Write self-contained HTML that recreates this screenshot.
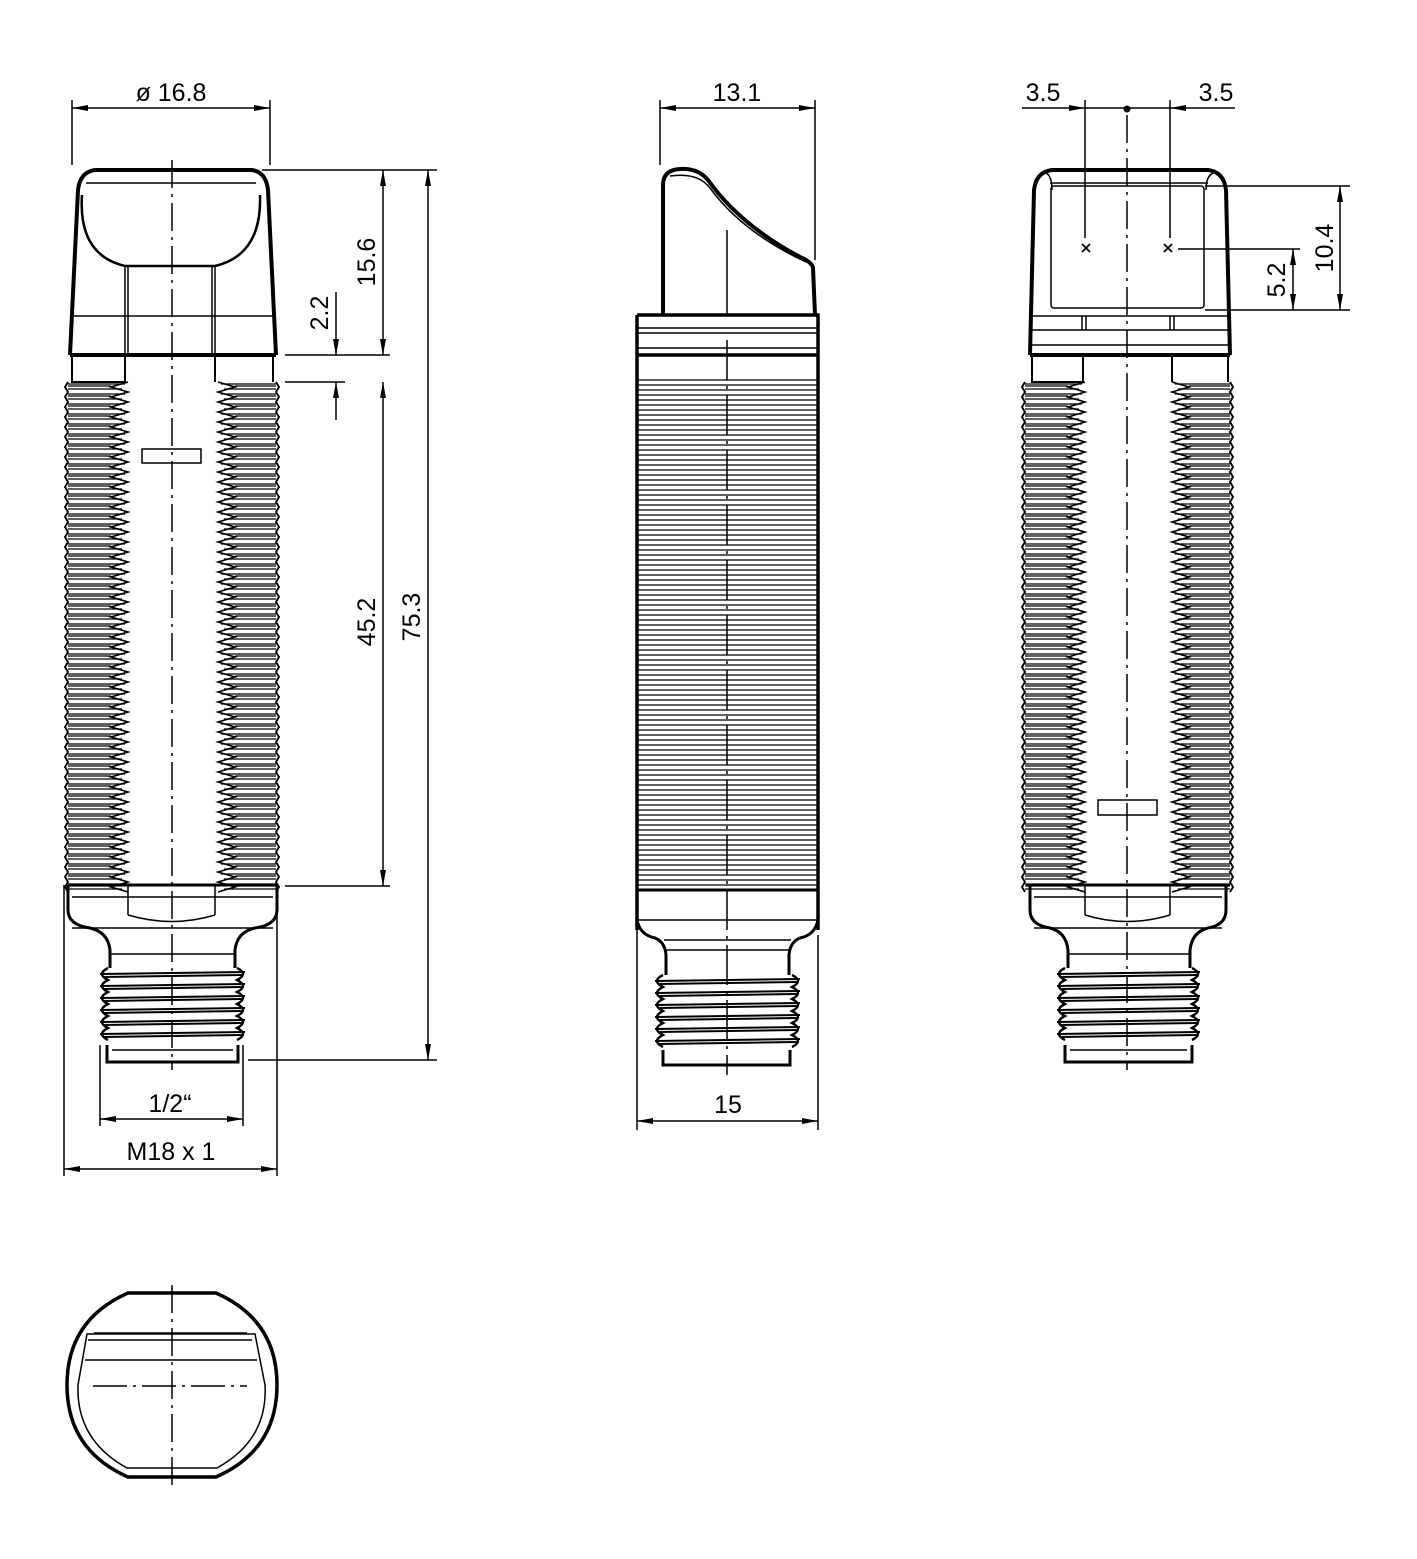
<!DOCTYPE html>
<html><head><meta charset="utf-8"><style>
html,body{margin:0;padding:0;background:#fff}
svg{display:block}
text{font-family:"Liberation Sans",sans-serif;font-size:25px;fill:#000}
</style></head><body>
<svg id="s" width="1417" height="1559" viewBox="0 0 1417 1559" xmlns="http://www.w3.org/2000/svg" fill="none" stroke="#000" stroke-width="1.5">
<defs>
<marker id="a" viewBox="0 0 16 6" refX="16" refY="3" markerWidth="16" markerHeight="6" markerUnits="userSpaceOnUse" orient="auto-start-reverse"><path d="M0,0 L16,3 L0,6 Z" fill="#000" stroke="none"/></marker>
</defs>
<g id="g"></g>

<!-- ===== LEFT VIEW ===== -->
<g>
<path d="M70,355 L78,190 Q80,172 95,170 L252,170 Q266,172 268,190 L276,355" stroke-width="4"/>
<path d="M86,183 L256,183" />
<path d="M82,195 Q78,255 125,266 L215,266 Q262,255 260,195" stroke-width="2.5"/>
<path d="M125,266 L125,355 M128,266 L128,355 M215,266 L215,355 M212,266 L212,355"/>
<path d="M72,316 L274,316"/>
<path d="M70,355 L276,355" stroke-width="4"/>
<path d="M72,355 L72,382 L125,382 L125,355 M215,355 L215,382 M273,355 L273,382" stroke-width="2"/>
<rect x="142" y="449" width="59" height="14"/>
<path d="M68,885 L277,885" stroke-width="3"/>
<path d="M68,885 L68,910 Q68,925 90,928 Q108,932 110,950 L110,968 M277,885 L277,910 Q277,925 255,928 Q237,932 235,950 L235,968" stroke-width="3"/>
<path d="M72,897 L273,897 M72,928 L273,928 M110,954 L235,954 M128,885 L128,915 M215,885 L215,915 M128,915 Q172,928 215,915"/>
<path d="M107,1045 L107,1062 L238,1062 L238,1045" stroke-width="3"/>
<path d="M112,1050 L233,1050"/>
<path d="M172,160 L172,1070" stroke-dasharray="28,6,3,6" stroke-width="1.5"/>
<path d="M72,100 L72,165 M270,100 L270,165"/>
<path d="M72,108 L270,108" marker-start="url(#a)" marker-end="url(#a)"/>
<text x="171" y="101" text-anchor="middle" stroke="none">ø 16.8</text>
<path d="M262,170 L437,170 M285,355 L390,355 M285,382 L345,382 M285,886 L390,886 M248,1060 L437,1060"/>
<path d="M383,170 L383,355" marker-start="url(#a)" marker-end="url(#a)"/>
<path d="M383,382 L383,886" marker-start="url(#a)" marker-end="url(#a)"/>
<path d="M428,170 L428,1060" marker-start="url(#a)" marker-end="url(#a)"/>
<path d="M336,292 L336,355" marker-end="url(#a)"/>
<path d="M336,420 L336,382" marker-end="url(#a)"/>
<text transform="translate(375,262) rotate(-90)" text-anchor="middle" stroke="none">15.6</text>
<text transform="translate(328,313) rotate(-90)" text-anchor="middle" stroke="none">2.2</text>
<text transform="translate(375,622) rotate(-90)" text-anchor="middle" stroke="none">45.2</text>
<text transform="translate(420,617) rotate(-90)" text-anchor="middle" stroke="none">75.3</text>
<path d="M100,1045 L100,1126 M243,1045 L243,1126"/>
<path d="M100,1119 L243,1119" marker-start="url(#a)" marker-end="url(#a)"/>
<text x="170" y="1112" text-anchor="middle" stroke="none">1/2“</text>
<path d="M64,885 L64,1176 M277,890 L277,1176"/>
<path d="M64,1169 L277,1169" marker-start="url(#a)" marker-end="url(#a)"/>
<text x="171" y="1160" text-anchor="middle" stroke="none">M18 x 1</text>
</g>

<!-- ===== MIDDLE VIEW ===== -->
<g>
<path d="M663,315 L663,185 Q663,170 680,169 Q698,168 708,180 Q740,225 800,257 Q812,262 813,268 L815,315" stroke-width="4"/>
<path d="M670,176 Q698,172 710,188 Q742,232 806,262"/>
<path d="M727,230 L727,315"/>
<path d="M637,315 L818,315 L818,930 M637,315 L637,930" stroke-width="3.5"/>
<path d="M637,328 L818,328 M637,333 L818,333 M637,348 L818,348"/>
<path d="M637,355 L818,355" stroke-width="3.5"/>
<path d="M637,890 L818,890" stroke-width="3"/>
<path d="M637,920 L818,920"/>
<path d="M637,920 Q640,935 655,938 Q665,942 666,955 L666,975 M818,920 Q815,935 800,938 Q790,942 789,955 L789,975" stroke-width="3"/>
<path d="M664,940 L791,940 M666,950 L789,950"/>
<path d="M663,1050 L663,1065 L790,1065 L790,1050" stroke-width="3"/>
<path d="M727,340 L727,1075" stroke-dasharray="40,6,3,6"/>
<path d="M660,100 L660,165 M815,100 L815,260"/>
<path d="M660,108 L815,108" marker-start="url(#a)" marker-end="url(#a)"/>
<text x="737" y="101" text-anchor="middle" stroke="none">13.1</text>
<path d="M637,930 L637,1130 M818,935 L818,1130"/>
<path d="M637,1121 L818,1121" marker-start="url(#a)" marker-end="url(#a)"/>
<text x="728" y="1113" text-anchor="middle" stroke="none">15</text>
</g>

<!-- ===== RIGHT VIEW ===== -->
<g>
<path d="M1030,355 L1034,190 Q1036,172 1052,170 L1208,170 Q1224,172 1226,190 L1230,355" stroke-width="4"/>
<path d="M1050,183 L1208,183 M1042,172 Q1052,172 1052,190 M1218,172 Q1206,172 1206,190"/>
<rect x="1051" y="186" width="153" height="122" rx="3"/>
<path d="M1032,316 L1228,316 M1032,330 L1228,330 M1032,345 L1228,345 M1082,316 L1082,330 M1086,316 L1086,330 M1170,316 L1170,330 M1174,316 L1174,330"/>
<path d="M1030,355 L1230,355" stroke-width="4"/>
<path d="M1032,355 L1032,382 L1083,382 L1083,355 M1172,355 L1172,382 M1228,355 L1228,382" stroke-width="2"/>
<rect x="1098" y="800" width="59" height="15"/>
<path d="M1026,885 L1230,885" stroke-width="3"/>
<path d="M1030,885 L1030,910 Q1030,925 1050,928 Q1066,932 1068,950 L1068,968 M1226,885 L1226,910 Q1226,925 1208,928 Q1192,932 1190,950 L1190,968" stroke-width="3"/>
<path d="M1034,897 L1222,897 M1034,928 L1222,928 M1068,954 L1190,954 M1085,885 L1085,915 M1170,885 L1170,915 M1085,915 Q1127,928 1170,915"/>
<path d="M1065,1045 L1065,1062 L1192,1062 L1192,1045" stroke-width="3"/>
<path d="M1070,1050 L1187,1050"/>
<path d="M1127,115 L1127,1070" stroke-dasharray="28,6,3,6"/>
<circle cx="1127" cy="109" r="3.5" fill="#000" stroke="none"/>
<path d="M1085,100 L1085,238 M1170,100 L1170,238"/>
<path d="M1022,108 L1085,108" marker-end="url(#a)"/>
<path d="M1235,108 L1170,108" marker-end="url(#a)"/>
<path d="M1085,108 L1170,108"/>
<text x="1043" y="101" text-anchor="middle" stroke="none">3.5</text>
<text x="1216" y="101" text-anchor="middle" stroke="none">3.5</text>
<path d="M1082,244 L1090,252 M1090,244 L1082,252 M1164,244 L1172,252 M1172,244 L1164,252" stroke-width="1.8"/>
<path d="M1178,249 L1300,249 M1205,186 L1350,186 M1205,310 L1350,310"/>
<path d="M1340,186 L1340,310" marker-start="url(#a)" marker-end="url(#a)"/>
<path d="M1293,249 L1293,310" marker-start="url(#a)" marker-end="url(#a)"/>
<text transform="translate(1333,248) rotate(-90)" text-anchor="middle" stroke="none">10.4</text>
<text transform="translate(1285,280) rotate(-90)" text-anchor="middle" stroke="none">5.2</text>
</g>

<!-- ===== BOTTOM VIEW ===== -->
<g>
<path d="M128,1293 L216,1293 Q277,1320 277,1385 Q277,1450 216,1477 L128,1477 Q67,1450 67,1385 Q67,1320 128,1293 Z" stroke-width="3.5"/>
<path d="M127,1468 L217,1468 Q268,1440 265,1385 L255,1334 L87,1334 L78,1385 Q76,1440 127,1468 Z"/>
<path d="M94,1333 L247,1333 M88,1340 L252,1340 M85,1360 L257,1360"/>
<path d="M93,1386 L247,1386" stroke-dasharray="34,6,3,6"/>
<path d="M172,1285 L172,1485" stroke-dasharray="28,6,3,6"/>
</g>
</svg>
<script>
var g=document.getElementById('g'),h='';
function P(d,w){h+='<path d="'+d+'" stroke-width="'+(w||1.3)+'"/>';}
function col(xo,xi,dir){
 var d='',z='M'+xi+',382',o='M'+xo+',382';
 for(var y=382;y<884;y+=10){
  var b=xi-dir*17;
  z+=' L'+b+','+(y+5)+' L'+xi+','+(y+10);
  o+=' L'+(xo-dir*3)+','+(y+5)+' L'+xo+','+(y+10);
  d+='M'+xo+','+(y+2)+' L'+(xi-dir*3)+','+(y+2)+' M'+xo+','+(y+4)+' L'+b+','+(y+4)+' M'+xo+','+(y+7)+' L'+(xi-dir*6)+','+(y+7);
 }
 P(d,1.3);P(z,1.6);P(o,1.9);
}
col(68,128,1);col(276,218,-1);col(1025,1085,1);col(1230,1172,-1);
var d='';for(var y=380;y<888;y+=5){d+='M638,'+y+' L817,'+y+' ';}P(d,1.3);
function conn(x0,x1,y0,y1){
 var d='',l='M'+(x0+8)+','+y0,r='M'+(x1-8)+','+y0;
 for(var y=y0;y<y1-6;y+=12){
  d+='M'+x0+','+(y+6)+' L'+x1+','+(y+4)+' M'+(x0+3)+','+(y+9)+' L'+(x1-3)+','+(y+7)+' ';
  l+=' Q'+(x0-4)+','+(y+6)+' '+(x0+8)+','+(y+12);
  r+=' Q'+(x1+4)+','+(y+6)+' '+(x1-8)+','+(y+12);
 }
 P(d,2);P(l,2.4);P(r,2.4);
}
conn(100,245,968,1045);conn(655,800,975,1050);conn(1057,1200,968,1045);
g.innerHTML=h;
</script>
</body></html>
